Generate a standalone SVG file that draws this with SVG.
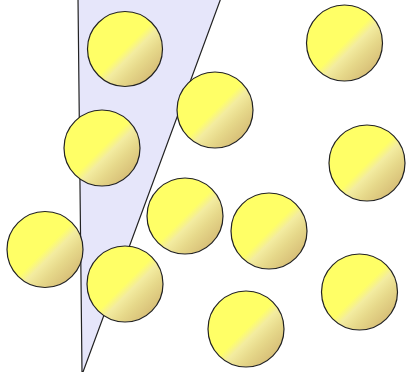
<svg xmlns="http://www.w3.org/2000/svg" width="407" height="372" viewBox="0 0 407 372">
<defs>
<linearGradient id="g" x1="0" y1="0" x2="1" y2="1">
<stop offset="0" stop-color="#ffff66"/>
<stop offset="0.5" stop-color="#ffff66"/>
<stop offset="0.58" stop-color="#f3eca0"/>
<stop offset="0.7" stop-color="#e6d88a"/>
<stop offset="0.85" stop-color="#d8c078"/>
<stop offset="1" stop-color="#c8a466"/>
</linearGradient>
<style>
.ball{fill:url(#g);stroke:#222;stroke-width:1.2}
.beam{fill:#e6e6fa;stroke:#222;stroke-width:1.2}
</style>
</defs>
<g id="beam"><polygon class="beam" points="78,-2 221,-2 83,372 82,372"/></g>
<g id="connectors"/>
<g id="b1"><circle class="ball" cx="125" cy="49" r="37.5"/></g>
<g id="b2"><circle class="ball" cx="215" cy="110" r="38"/></g>
<g id="b3"><circle class="ball" cx="344.5" cy="43" r="38"/></g>
<g id="b4"><circle class="ball" cx="102" cy="148" r="38"/></g>
<g id="b5"><circle class="ball" cx="367" cy="163" r="38"/></g>
<g id="b6"><circle class="ball" cx="185" cy="216" r="38"/></g>
<g id="b7"><circle class="ball" cx="269" cy="231" r="38"/></g>
<g id="b8"><circle class="ball" cx="45" cy="249.5" r="38"/></g>
<g id="b9"><circle class="ball" cx="125" cy="284" r="38"/></g>
<g id="b10"><circle class="ball" cx="359.5" cy="292" r="38"/></g>
<g id="b11"><circle class="ball" cx="246" cy="329" r="38"/></g>
</svg>
